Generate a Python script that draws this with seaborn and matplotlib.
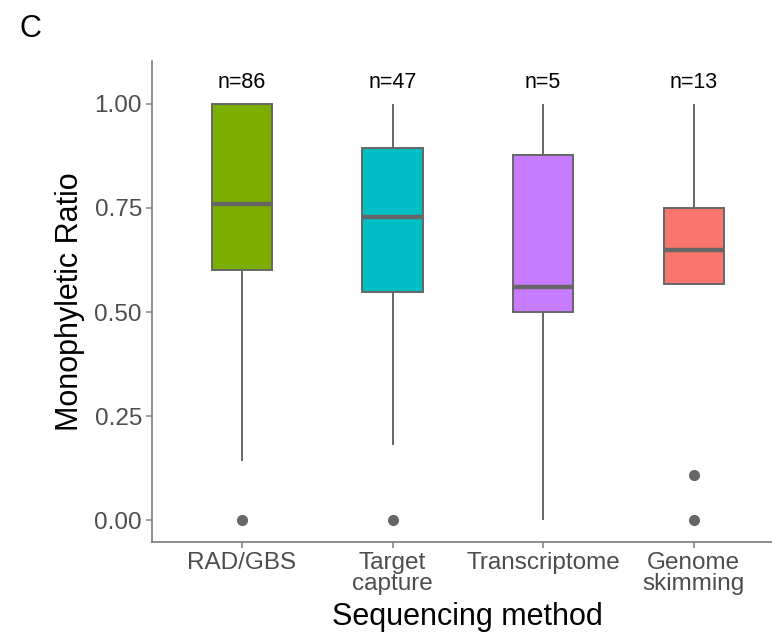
import matplotlib
matplotlib.use("Agg")
import matplotlib.pyplot as plt
import seaborn as sns
import pandas as pd

# ---- data ----
methods = ["RAD/GBS", "Target\ncapture", "Transcriptome", "Genome\nskimming"]
counts = [86, 47, 5, 13]
q1 = [0.602, 0.549, 0.499, 0.568]
median = [0.759, 0.728, 0.559, 0.649]
q3 = [1.00, 0.893, 0.878, 0.749]
whisker_low = [0.142, 0.180, 0.00, 0.568]
whisker_high = [1.00, 1.00, 1.00, 1.00]
outliers = [[0.0], [0.0], [], [0.0, 0.110]]
colors = ["#7CAE00", "#00BFC4", "#C77CFF", "#F8766D"]

# Build a long table whose box statistics equal the values above
rows = []
for m, lo, a, md, b, hi, fl in zip(methods, whisker_low, q1, median, q3, whisker_high, outliers):
    vals = list(fl) + [lo] + [a] * 4 + [md] * 4 + [b] * 4 + [hi]
    for v in vals:
        rows.append({"method": m, "ratio": v})
df = pd.DataFrame(rows)

sns.set_style("white")
plt.rcParams["font.family"] = ["Liberation Sans", "DejaVu Sans"]

fig = plt.figure(figsize=(7.72, 6.41), dpi=100)
ax = fig.add_axes([151.7 / 772, (641 - 542.3) / 641, (784 - 151.7) / 772, 481.3 / 641])

edge = "#666666"
sns.boxplot(
    data=df, x="method", y="ratio", hue="method", order=methods, hue_order=methods,
    palette=colors, width=0.4, linecolor=edge, linewidth=1.4, legend=False,
    fliersize=7, showcaps=False,
    flierprops=dict(marker="o", markerfacecolor=edge, markeredgecolor=edge),
    medianprops=dict(color=edge, linewidth=3.2),
    saturation=1, ax=ax,
)

for i, n in enumerate(counts):
    ax.text(i, 1.05, f"n={n}", ha="center", va="center", fontsize=15.5, color="black")

ax.set_xlim(-0.6, 3.6)
ax.set_ylim(-0.0525, 1.1025)
ax.set_yticks([0, 0.25, 0.5, 0.75, 1.0])
ax.set_yticklabels(["0.00", "0.25", "0.50", "0.75", "1.00"])

for s in ["top", "right"]:
    ax.spines[s].set_visible(False)
for s in ["left", "bottom"]:
    ax.spines[s].set_color("#7a7a7a")
    ax.spines[s].set_linewidth(1.2)

ax.tick_params(axis="both", which="major", length=4, width=1.1, color="#7a7a7a",
               labelcolor="#4D4D4D", labelsize=17.5, left=True, bottom=True, pad=3)
for lbl in ax.get_xticklabels():
    lbl.set_linespacing(0.95)
ax.set_xlabel("Sequencing method", fontsize=22, color="black", labelpad=5)
ax.set_ylabel("Monophyletic Ratio", fontsize=22, color="black", labelpad=6.5)

fig.text(30 / 772, 1 - 29 / 641, "C", fontsize=22, color="black", ha="center", va="center")

fig.savefig("out.png", dpi=100)
